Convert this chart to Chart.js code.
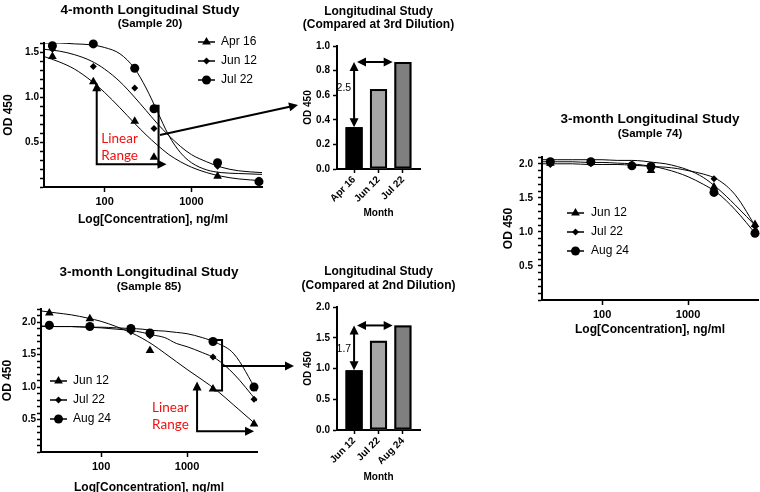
<!DOCTYPE html>
<html>
<head>
<meta charset="utf-8">
<script src="https://cdn.jsdelivr.net/npm/chart.js@4.4.1/dist/chart.umd.min.js"></script>
<style>
  body { margin: 0; background: #fff; overflow: hidden; }
  #page { position: relative; width: 760px; height: 492px; overflow: hidden; }
  canvas { position: absolute; }
</style>
</head>
<body>
<div id="page">
  <canvas id="c20" width="265" height="228" style="left:0;top:0"></canvas>
  <canvas id="b20" width="180" height="230" style="left:280px;top:0"></canvas>
  <canvas id="c74" width="280" height="250" style="left:480px;top:100px"></canvas>
  <canvas id="c85" width="265" height="260" style="left:0;top:240px"></canvas>
  <canvas id="b85" width="180" height="250" style="left:280px;top:240px"></canvas>
  <canvas id="setas" width="760" height="492" style="left:0;top:0;pointer-events:none"></canvas>
</div>
<script>
// dilutions (ng/ml) measured on each sample
let conc = [25, 74, 222, 370, 2000, 6000];
let fitConc = [20, 30, 45, 70, 100, 150, 220, 300, 400, 550, 750, 1000, 1500, 2200, 3500, 6500];
let concTicks = [100, 1000];

// sample 20 - 4 months
let s20Labels = ["Apr 16", "Jun 12", "Jul 22"];
let s20Apr16 = [1.45, 1.17, 0.73, 0.33, 0.12, 0.06];
let s20Jun12 = [1.53, 1.34, 1.10, 0.65, 0.23, 0.05];
let s20Jul22 = [1.57, 1.59, 1.32, 0.87, 0.27, 0.06];
let s20FitApr16 = [1.45, 1.39, 1.31, 1.18, 1.05, 0.88, 0.71, 0.58, 0.47, 0.36, 0.28, 0.22, 0.16, 0.12, 0.09, 0.07];
let s20FitJun12 = [1.53, 1.51, 1.47, 1.40, 1.31, 1.17, 1.00, 0.85, 0.71, 0.57, 0.45, 0.36, 0.28, 0.22, 0.18, 0.16];
let s20FitJul22 = [1.60, 1.60, 1.59, 1.58, 1.55, 1.48, 1.32, 1.10, 0.85, 0.57, 0.38, 0.27, 0.19, 0.16, 0.15, 0.14];

// sample 20 compared at 3rd dilution
let s20Months = ["Apr 16", "Jun 12", "Jul 22"];
let s20Third = [0.34, 0.65, 0.87];
let s20Fold = "2.5";

// sample 85 - 3 months
let s85Labels = ["Jun 12", "Jul 22", "Aug 24"];
let s85Jun12 = [2.14, 2.05, 1.88, 1.56, 0.97, 0.43];
let s85Jul22 = [1.93, 1.92, 1.85, 1.79, 1.46, 0.81];
let s85Aug24 = [1.95, 1.93, 1.90, 1.83, 1.70, 1.00];
let s85FitJun12 = [2.17, 2.14, 2.11, 2.06, 2.01, 1.93, 1.84, 1.75, 1.65, 1.52, 1.39, 1.27, 1.11, 0.95, 0.72, 0.41];
let s85FitJul22 = [1.94, 1.93, 1.93, 1.92, 1.91, 1.89, 1.87, 1.84, 1.80, 1.76, 1.67, 1.62, 1.53, 1.43, 1.20, 0.78];
let s85FitAug24 = [1.93, 1.93, 1.93, 1.92, 1.92, 1.91, 1.90, 1.89, 1.87, 1.86, 1.84, 1.82, 1.76, 1.68, 1.51, 0.93];

// sample 85 compared at 2nd dilution
let s85Months = ["Jun 12", "Jul 22", "Aug 24"];
let s85Second = [0.97, 1.45, 1.70];
let s85Fold = "1.7";

// sample 74 - 3 months
let s74Labels = ["Jun 12", "Jul 22", "Aug 24"];
let s74Jun12 = [2.01, 2.02, 1.98, 1.90, 1.66, 1.11];
let s74Jul22 = [1.99, 2.00, 1.98, 1.95, 1.78, 1.08];
let s74Aug24 = [2.03, 2.03, 1.97, 1.96, 1.58, 0.98];
let s74FitJun12 = [2.06, 2.06, 2.06, 2.06, 2.06, 2.05, 2.05, 2.04, 2.02, 2.00, 1.96, 1.91, 1.80, 1.64, 1.40, 1.05];
let s74FitJul22 = [2.00, 2.00, 2.00, 1.99, 1.99, 1.99, 1.98, 1.97, 1.96, 1.95, 1.93, 1.90, 1.85, 1.77, 1.55, 1.02];
let s74FitAug24 = [2.03, 2.03, 2.03, 2.02, 2.02, 2.01, 2.00, 1.98, 1.96, 1.92, 1.87, 1.81, 1.70, 1.57, 1.33, 0.93];

const FONTE = '"Liberation Sans", Arial, sans-serif';
const VERMELHO = "#f01010";
Chart.defaults.font.family = FONTE;
Chart.defaults.color = "#000";
Chart.defaults.animation = false;

let marcadores = [
  { pointStyle: "triangle", pointRadius: 5 },
  { pointStyle: "rectRot", pointRadius: 3.5 },
  { pointStyle: "circle", pointRadius: 4.5 }
];
let coresBarras = ["#000000", "#a6a6a6", "#7f7f7f"];

function pontos(xs, ys) {
  return xs.map((x, i) => ({ x: x, y: ys[i] }));
}

// arrow head with the tip at (x1, y1)
function ponta(ctx, x0, y0, x1, y1) {
  let a = Math.atan2(y1 - y0, x1 - x0);
  let len = 9, half = 4.5;
  ctx.beginPath();
  ctx.moveTo(x1, y1);
  ctx.lineTo(x1 - len * Math.cos(a) + half * Math.sin(a), y1 - len * Math.sin(a) - half * Math.cos(a));
  ctx.lineTo(x1 - len * Math.cos(a) - half * Math.sin(a), y1 - len * Math.sin(a) + half * Math.cos(a));
  ctx.closePath();
  ctx.fill();
}

function encurta(p, q, d) {
  let dx = p[0] - q[0], dy = p[1] - q[1];
  let n = Math.hypot(dx, dy) || 1;
  return [p[0] - dx / n * d, p[1] - dy / n * d];
}

function seta(ctx, pts, inicio, fim) {
  ctx.save();
  ctx.strokeStyle = "#000";
  ctx.fillStyle = "#000";
  ctx.lineWidth = 2;
  ctx.lineJoin = "miter";
  let linha = pts.slice();
  let n = pts.length;
  if (inicio) linha[0] = encurta(pts[0], pts[1], 5);
  if (fim) linha[n - 1] = encurta(pts[n - 1], pts[n - 2], 5);
  ctx.beginPath();
  linha.forEach((p, i) => i ? ctx.lineTo(p[0], p[1]) : ctx.moveTo(p[0], p[1]));
  ctx.stroke();
  if (inicio) ponta(ctx, pts[1][0], pts[1][1], pts[0][0], pts[0][1]);
  if (fim) ponta(ctx, pts[n - 2][0], pts[n - 2][1], pts[n - 1][0], pts[n - 1][1]);
  ctx.restore();
}

// titles, legend, bar outlines and annotations drawn on top of each chart
let extras = {
  id: "extras",
  afterDraw(chart, args, opts) {
    let ctx = chart.ctx;
    let area = chart.chartArea;
    let sx = chart.scales.x, sy = chart.scales.y;
    ctx.save();
    ctx.textBaseline = "middle";

    (opts.titulos || []).forEach(t => {
      ctx.font = t.font;
      ctx.fillStyle = "#000";
      ctx.textAlign = "center";
      ctx.fillText(t.text, (area.left + area.right) / 2 + (opts.desvio || 0), t.y);
    });

    if (opts.legenda) {
      let lg = opts.legenda;
      let itens = chart.data.datasets.filter(d => !d.showLine);
      itens.forEach((d, i) => {
        let y = lg.ys[i];
        ctx.strokeStyle = "#000";
        ctx.fillStyle = "#000";
        ctx.lineWidth = 1.5;
        ctx.beginPath();
        ctx.moveTo(lg.x1, y);
        ctx.lineTo(lg.x2, y);
        ctx.stroke();
        Chart.helpers.drawPoint(ctx, { pointStyle: d.pointStyle, radius: d.pointRadius, rotation: 0, borderWidth: 0 }, (lg.x1 + lg.x2) / 2, y);
        ctx.font = "12px " + FONTE;
        ctx.textAlign = "left";
        ctx.fillText(d.label, lg.tx, y);
      });
    }

    // black outline around each bar
    if (opts.contorno) {
      chart.getDatasetMeta(0).data.forEach(bar => {
        let p = bar.getProps(["x", "y", "base", "width"], true);
        ctx.strokeStyle = "#000";
        ctx.lineWidth = 2;
        ctx.strokeRect(p.x - p.width / 2 + 1, p.y + 1, p.width - 2, p.base - p.y - 2);
      });
    }

    (opts.caminhos || []).forEach(c => {
      let pts = c.pts.map(p => [sx.getPixelForValue(p[0]), sy.getPixelForValue(p[1])]);
      seta(ctx, pts, c.inicio, c.fim);
    });

    (opts.textos || []).forEach(t => {
      ctx.font = t.font;
      ctx.fillStyle = t.color || "#000";
      ctx.textAlign = t.align || "left";
      ctx.fillText(t.text, sx.getPixelForValue(t.x), sy.getPixelForValue(t.y));
    });
    ctx.restore();
  }
};

function graficoCurvas(id, c) {
  let datasets = [];
  c.labels.forEach((lab, i) => {
    datasets.push({
      label: lab,
      data: pontos(conc, c.series[i]),
      pointStyle: marcadores[i].pointStyle,
      pointRadius: marcadores[i].pointRadius,
      pointHoverRadius: marcadores[i].pointRadius,
      backgroundColor: "#000",
      borderColor: "#000",
      borderWidth: 0,
      clip: false
    });
  });
  c.fits.forEach(f => {
    datasets.push({
      data: pontos(fitConc, f),
      showLine: true,
      pointRadius: 0,
      pointHoverRadius: 0,
      borderColor: "#000",
      borderWidth: 1,
      cubicInterpolationMode: "monotone"
    });
  });

  return new Chart(document.getElementById(id), {
    type: "scatter",
    data: { datasets: datasets },
    plugins: [extras],
    options: {
      responsive: false,
      layout: { padding: c.pad, autoPadding: false },
      plugins: { legend: { display: false }, tooltip: { enabled: false }, extras: c.extras },
      scales: {
        x: {
          type: "logarithmic",
          min: 20,
          max: 6500,
          afterBuildTicks: s => { s.ticks = concTicks.map(v => ({ value: v })); },
          afterFit: s => { s.height = c.altX; },
          ticks: { callback: v => String(v), autoSkip: false, maxRotation: 0, padding: 3, font: { size: 11, weight: "bold" } },
          grid: { drawOnChartArea: false, tickLength: 5, tickColor: "#000", tickWidth: 1.5 },
          border: { color: "#000", width: 2 },
          title: { display: true, text: "Log[Concentration], ng/ml", font: { size: 12, weight: "bold" }, padding: { top: 0, bottom: c.padTituloX } }
        },
        y: {
          min: 0,
          max: c.yMax,
          afterFit: s => { s.width = c.largY; },
          ticks: {
            stepSize: 0.1,
            autoSkip: false,
            padding: c.padTickY,
            font: { size: 10, weight: "bold" },
            callback: v => (v > 0 && Math.round(v * 10) % 5 === 0) ? v.toFixed(1) : ""
          },
          grid: { drawOnChartArea: false, tickLength: 4, tickColor: "#000", tickWidth: 1.5 },
          border: { color: "#000", width: 2 },
          title: { display: true, text: "OD 450", font: { size: 12, weight: "bold" }, padding: { top: c.padTituloY, bottom: 0 } }
        }
      }
    }
  });
}

function graficoBarras(id, c) {
  return new Chart(document.getElementById(id), {
    type: "bar",
    data: {
      datasets: [{
        data: c.valores.map((v, i) => ({ x: i, y: v })),
        backgroundColor: coresBarras,
        borderWidth: 0,
        barPercentage: 0.7,
        categoryPercentage: 1
      }]
    },
    plugins: [extras],
    options: {
      responsive: false,
      layout: { padding: c.pad, autoPadding: false },
      plugins: { legend: { display: false }, tooltip: { enabled: false }, extras: c.extras },
      scales: {
        x: {
          type: "linear",
          min: -0.7,
          max: 2.7,
          offset: false,
          afterBuildTicks: s => { s.ticks = c.meses.map((m, i) => ({ value: i })); },
          afterFit: s => { s.height = c.altX; },
          ticks: { callback: v => c.meses[v], autoSkip: false, minRotation: 45, maxRotation: 45, padding: 1, font: { size: 10, weight: "bold" } },
          grid: { drawOnChartArea: false, offset: false, tickLength: 4, tickColor: "#000", tickWidth: 1.5 },
          border: { color: "#000", width: 2 },
          title: { display: true, text: "Month", font: { size: 10, weight: "bold" }, padding: { top: 0, bottom: c.padTituloX } }
        },
        y: {
          min: 0,
          max: c.yMax,
          afterFit: s => { s.width = 39; },
          ticks: { stepSize: c.passo, autoSkip: false, padding: 3, font: { size: 10, weight: "bold" }, callback: v => v.toFixed(1) },
          grid: { drawOnChartArea: false, tickLength: 4, tickColor: "#000", tickWidth: 1.5 },
          border: { color: "#000", width: 2 },
          title: { display: true, text: "OD 450", font: { size: 10, weight: "bold" }, padding: { top: 4, bottom: 0 } }
        }
      }
    }
  });
}

let tituloGrande = "bold 13.5px " + FONTE;
let tituloPequeno = "bold 11.5px " + FONTE;
let tituloBarra = "bold 12px " + FONTE;
let fonteVermelha = "13.5px Lato, " + FONTE;

graficoCurvas("c20", {
  labels: s20Labels,
  series: [s20Apr16, s20Jun12, s20Jul22],
  fits: [s20FitApr16, s20FitJun12, s20FitJul22],
  yMax: 1.6,
  pad: { left: 1, right: 3, top: 43, bottom: 0 },
  largY: 43, altX: 41, padTituloX: 1, padTituloY: 0, padTickY: 1,
  extras: {
    desvio: -3,
    titulos: [
      { text: "4-month Longitudinal Study", y: 10, font: tituloGrande },
      { text: "(Sample 20)", y: 24, font: tituloPequeno }
    ],
    legenda: { x1: 198, x2: 215, tx: 221, ys: [42, 61, 80] },
    caminhos: [
      { pts: [[81, 1.163], [81, 0.253], [516, 0.253]], inicio: true, fim: true },
      { pts: [[385, 0.904], [418, 0.904], [418, 0.242]] }
    ],
    textos: [
      { text: "Linear", x: 91.6, y: 0.539, color: VERMELHO, font: fonteVermelha },
      { text: "Range", x: 91.6, y: 0.343, color: VERMELHO, font: fonteVermelha }
    ]
  }
});

graficoBarras("b20", {
  meses: s20Months,
  valores: s20Third,
  yMax: 1.0, passo: 0.2,
  pad: { left: 18, right: 40, top: 46, bottom: 0 },
  altX: 61, padTituloX: 11,
  extras: {
    contorno: true,
    titulos: [
      { text: "Longitudinal Study", y: 12, font: tituloBarra },
      { text: "(Compared at 3rd Dilution)", y: 25, font: tituloBarra }
    ],
    caminhos: [
      { pts: [[0, s20Third[2]], [0, s20Third[0]]], inicio: true, fim: true },
      { pts: [[0.12, s20Third[2]], [1.58, s20Third[2]]], inicio: true, fim: true }
    ],
    textos: [
      { text: s20Fold, x: -0.12, y: 0.66, align: "right", font: "10.5px " + FONTE }
    ]
  }
});

graficoCurvas("c74", {
  labels: s74Labels,
  series: [s74Jun12, s74Jul22, s74Aug24],
  fits: [s74FitJun12, s74FitJul22, s74FitAug24],
  yMax: 2.1,
  pad: { left: 20, right: 2, top: 57, bottom: 12 },
  largY: 42, altX: 38, padTituloX: 1, padTituloY: 1, padTickY: 5,
  extras: {
    titulos: [
      { text: "3-month Longitudinal Study", y: 19, font: tituloGrande },
      { text: "(Sample 74)", y: 34, font: tituloPequeno }
    ],
    legenda: { x1: 87, x2: 104, tx: 111, ys: [113, 132, 151] }
  }
});

graficoCurvas("c85", {
  labels: s85Labels,
  series: [s85Jun12, s85Jul22, s85Aug24],
  fits: [s85FitJun12, s85FitJul22, s85FitAug24],
  yMax: 2.2,
  pad: { left: 0, right: 8, top: 69, bottom: 4 },
  largY: 41, altX: 44, padTituloX: 1, padTituloY: 0, padTickY: 1,
  extras: {
    titulos: [
      { text: "3-month Longitudinal Study", y: 32, font: tituloGrande },
      { text: "(Sample 85)", y: 47, font: tituloPequeno }
    ],
    legenda: { x1: 50, x2: 67, tx: 73, ys: [141, 160, 179] },
    caminhos: [
      { pts: [[1306, 1.083], [1306, 0.318], [6010, 0.318]], inicio: true, fim: true },
      { pts: [[2060, 1.725], [2550, 1.725], [2550, 0.945], [2060, 0.945]] }
    ],
    textos: [
      { text: "Linear", x: 392, y: 0.685, color: VERMELHO, font: fonteVermelha },
      { text: "Range", x: 392, y: 0.425, color: VERMELHO, font: fonteVermelha }
    ]
  }
});

graficoBarras("b85", {
  meses: s85Months,
  valores: s85Second,
  yMax: 2.0, passo: 0.5,
  pad: { left: 18, right: 40, top: 67, bottom: 0 },
  altX: 60, padTituloX: 7,
  extras: {
    contorno: true,
    titulos: [
      { text: "Longitudinal Study", y: 32, font: tituloBarra },
      { text: "(Compared at 2nd Dilution)", y: 46, font: tituloBarra }
    ],
    caminhos: [
      { pts: [[0, s85Second[2]], [0, s85Second[0]]], inicio: true, fim: true },
      { pts: [[0.12, s85Second[2]], [1.58, s85Second[2]]], inicio: true, fim: true }
    ],
    textos: [
      { text: s85Fold, x: -0.12, y: 1.32, align: "right", font: "10.5px " + FONTE }
    ]
  }
});

// arrows linking the linear ranges to the bar charts
let ctxSetas = document.getElementById("setas").getContext("2d");
seta(ctxSetas, [[160, 135], [298, 105]], false, true);
seta(ctxSetas, [[223, 366], [294, 366]], false, true);
</script>
</body>
</html>
